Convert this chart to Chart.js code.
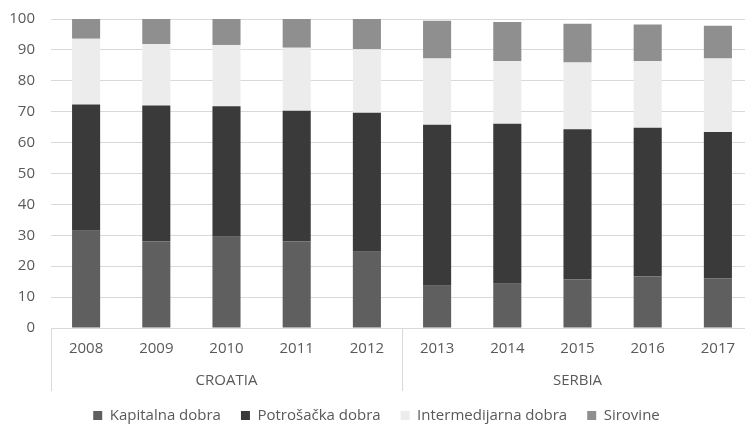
<!DOCTYPE html>
<html>
<head>
<meta charset="utf-8">
<script src="https://cdn.jsdelivr.net/npm/chart.js@4/dist/chart.umd.min.js"></script>
<style>
  html, body { margin: 0; padding: 0; background: #fff; overflow: hidden; }
  #wrap { width: 778px; height: 424px; position: relative; }
</style>
</head>
<body>
<div id="wrap"><canvas id="c"></canvas></div>
<script>
const years = ['2008','2009','2010','2011','2012','2013','2014','2015','2016','2017'];
const groups = ['CROATIA','SERBIA'];
const groupSizes = [5, 5];
const seriesNames = ['Kapitalna dobra','Potrošačka dobra','Intermedijarna dobra','Sirovine'];
const kapitalna      = [31.5, 28.1, 29.5, 28.1, 24.7, 13.7, 14.3, 15.8, 16.7, 16.1];
const potrosacka     = [40.8, 43.9, 42.3, 42.2, 45.0, 52.1, 51.8, 48.5, 48.1, 47.3];
const intermedijarna = [21.3, 19.9, 19.8, 20.4, 20.5, 21.4, 20.3, 21.6, 21.6, 23.8];
const sirovine       = [6.4, 8.1, 8.4, 9.3, 9.8, 12.2, 12.6, 12.6, 11.8, 10.6];
const colors = ['#5f5f5f', '#3a3a3a', '#ececec', '#8f8f8f'];

const FONT = "'Open Sans', 'Noto Sans', sans-serif";
const TXT = '#595959';
const GRID = '#d9d9d9';

const groupPlugin = {
  id: 'groupLabels',
  afterDraw(chart) {
    const { ctx, scales: { x }, chartArea } = chart;
    const half = (x.getPixelForValue(1) - x.getPixelForValue(0)) / 2;
    const yTop = chartArea.bottom;
    const yBot = chartArea.bottom + 63;
    ctx.save();
    ctx.strokeStyle = GRID;
    ctx.lineWidth = 1;
    ctx.fillStyle = TXT;
    ctx.font = "15px " + FONT;
    ctx.textAlign = 'center';
    ctx.textBaseline = 'middle';
    let idx = 0;
    const drawLine = (px) => {
      const xx = Math.round(px) + 0.5;
      ctx.beginPath(); ctx.moveTo(xx, yTop); ctx.lineTo(xx, yBot); ctx.stroke();
    };
    groups.forEach((g, i) => {
      const start = idx, end = idx + groupSizes[i] - 1;
      const left = x.getPixelForValue(start) - half;
      const right = x.getPixelForValue(end) + half;
      if (i === 0) drawLine(left);
      drawLine(right);
      ctx.fillText(g, (left + right) / 2, chartArea.bottom + 53);
      idx += groupSizes[i];
    });
    ctx.restore();
  }
};

const legendFit = {
  id: 'legendFit',
  beforeInit(chart) {
    const orig = chart.legend.fit;
    chart.legend.fit = function () { orig.bind(this)(); this.height = 36; };
  }
};

new Chart(document.getElementById('c'), {
  type: 'bar',
  data: {
    labels: years,
    datasets: [kapitalna, potrosacka, intermedijarna, sirovine].map((d, i) => ({
      label: seriesNames[i],
      data: d,
      backgroundColor: colors[i],
      borderWidth: 0,
      barPercentage: 0.4,
      categoryPercentage: 1.0
    }))
  },
  options: {
    responsive: true,
    maintainAspectRatio: false,
    animation: false,
    devicePixelRatio: 1,
    layout: { padding: { top: 19, right: 25, left: 0, bottom: 0 } },
    plugins: {
      legend: {
        position: 'bottom',
        labels: {
          boxWidth: 9, boxHeight: 9, padding: 20,
          color: TXT, font: { family: FONT, size: 15 }
        }
      },
      tooltip: { enabled: false }
    },
    scales: {
      x: {
        stacked: true,
        grid: { display: false, drawTicks: false },
        border: { display: true, color: GRID, width: 1 },
        ticks: { color: TXT, font: { family: FONT, size: 15 }, padding: 12, maxRotation: 0 },
        afterFit(s) { s.height = 60; s.paddingLeft = 0; s.paddingRight = 0; }
      },
      y: {
        stacked: true,
        min: 0, max: 100,
        ticks: { stepSize: 10, color: TXT, font: { family: FONT, size: 15 }, padding: 16 },
        grid: { color: GRID, lineWidth: 1, drawTicks: false },
        border: { display: false },
        afterFit(s) { s.width = 51; s.paddingTop = 0; s.paddingBottom = 0; }
      }
    }
  },
  plugins: [groupPlugin, legendFit]
});
</script>
</body>
</html>
